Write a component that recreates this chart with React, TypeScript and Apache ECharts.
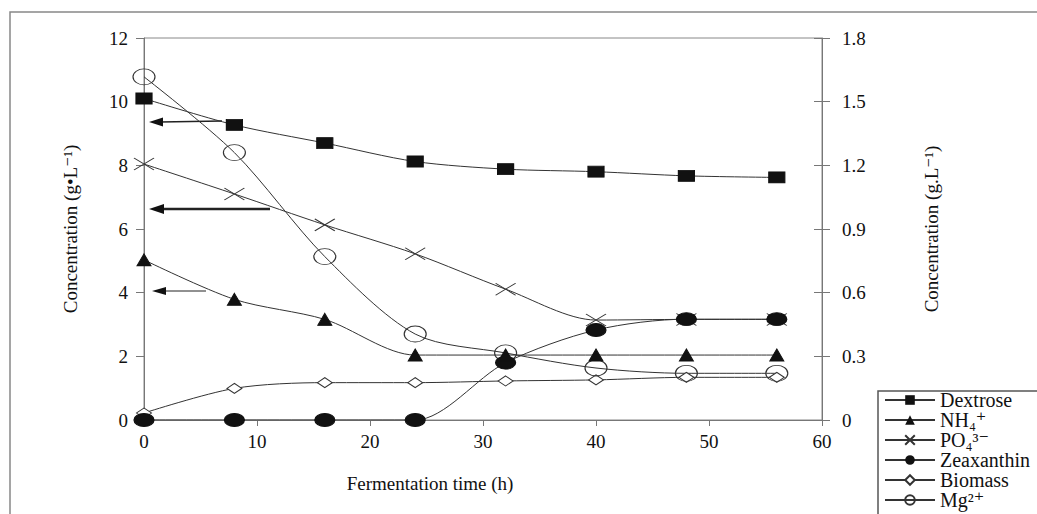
import React, { useEffect, useRef } from "react";
import * as echarts from "echarts";

const hours = [0, 8, 16, 24, 32, 40, 48, 56];
// left axis (g·L-1)
const dextrose = [10.1, 9.27, 8.7, 8.12, 7.88, 7.8, 7.67, 7.62];
const nh4 = [5.03, 3.79, 3.16, 2.04, 2.04, 2.04, 2.04, 2.04];
const po4 = [8.04, 7.1, 6.13, 5.22, 4.11, 3.14, 3.16, 3.16];
// right axis (g.L-1)
const zeaxanthin = [0, 0, 0, 0, 0.27, 0.424, 0.475, 0.475];
const biomass = [0.033, 0.149, 0.176, 0.176, 0.184, 0.189, 0.201, 0.201];
const mg = [1.617, 1.26, 0.77, 0.405, 0.316, 0.245, 0.22, 0.22];

const xTicks = { min: 0, max: 60, interval: 10 };
const leftTicks = { min: 0, max: 12, interval: 2 };
const rightTicks = { min: 0, max: 1.8, interval: 0.3 };
const legendNames = ["Dextrose", "NH₄⁺", "PO₄³⁻", "Zeaxanthin", "Biomass", "Mg²⁺"];

const FONT = "'Liberation Serif', 'DejaVu Serif', serif";
const LINE = "#333";

const pairs = (ys: number[]) => hours.map((h, i) => [h, ys[i]]);

const ellipse = "path://M0,6A10,6 0 1,0 20,6A10,6 0 1,0 0,6Z";
const cross = "path://M0,0L20,12M20,0L0,12";

export default function App() {
  const ref = useRef<HTMLDivElement>(null);
  useEffect(() => {
    if (!ref.current) return;
    const chart = echarts.init(ref.current, undefined, { renderer: "svg" });
    const base = {
      type: "line" as const,
      smooth: 0.3,
      lineStyle: { color: LINE, width: 1 },
      emphasis: { disabled: true },
    };
    const axisLabel = { color: "#111", fontFamily: FONT, fontSize: 19 };
    chart.setOption({
      animation: false,
      backgroundColor: "#fff",
      grid: {
        left: 144,
        right: 215,
        top: 38,
        bottom: 94,
        show: true,
        borderColor: "#888",
        borderWidth: 1,
      },
      legend: {
        orient: "vertical",
        left: 884,
        top: 390,
        height: 140,
        width: 200,
        padding: 0,
        itemWidth: 50,
        itemHeight: 12,
        itemGap: 0,
        selectedMode: false,
        textStyle: { fontFamily: FONT, fontSize: 20, color: "#111", lineHeight: 20 },
        data: legendNames,
      },
      xAxis: {
        type: "value",
        ...xTicks,
        name: "Fermentation time (h)",
        nameLocation: "middle",
        nameGap: 54,
        nameTextStyle: {
          fontFamily: FONT,
          fontSize: 19,
          color: "#111",
          padding: [0, 106, 0, 0],
        },
        axisLine: { lineStyle: { color: "#777" } },
        axisTick: { lineStyle: { color: "#777" }, length: 6 },
        axisLabel: { ...axisLabel, margin: 12 },
        splitLine: { show: false },
      },
      yAxis: [
        {
          type: "value",
          ...leftTicks,
          position: "left",
          name: "Concentration (g•L⁻¹)",
          nameLocation: "middle",
          nameGap: 64,
          nameTextStyle: { fontFamily: FONT, fontSize: 19, color: "#111" },
          axisLine: { show: true, lineStyle: { color: "#777" } },
          axisTick: { show: true, lineStyle: { color: "#777" }, length: 8 },
          axisLabel: { ...axisLabel, margin: 16 },
          splitLine: { show: false },
        },
        {
          type: "value",
          ...rightTicks,
          position: "right",
          name: "Concentration (g.L⁻¹)",
          nameLocation: "middle",
          nameGap: 100,
          nameRotate: 90,
          nameTextStyle: { fontFamily: FONT, fontSize: 19, color: "#111" },
          axisLine: { show: true, lineStyle: { color: "#777" } },
          axisTick: { show: true, lineStyle: { color: "#777" }, length: 8 },
          axisLabel: {
            ...axisLabel,
            margin: 20,
            formatter: (v: number) => String(Math.round(v * 10) / 10),
          },
          splitLine: { show: false },
        },
        {
          type: "value",
          ...rightTicks,
          position: "right",
          axisLine: { show: false },
          axisTick: { show: true, inside: true, lineStyle: { color: "#777" }, length: 8 },
          axisLabel: { show: false },
          splitLine: { show: false },
        },
      ],
      series: [
        {
          ...base,
          name: legendNames[0],
          yAxisIndex: 0,
          data: pairs(dextrose),
          symbol: "rect",
          symbolSize: [16, 11],
          itemStyle: { color: "#111", borderColor: "#111" },
          z: 6,
        },
        {
          ...base,
          name: legendNames[1],
          yAxisIndex: 0,
          data: pairs(nh4),
          symbol: "triangle",
          symbolSize: [14, 12],
          itemStyle: { color: "#111", borderColor: "#111" },
          z: 6,
        },
        {
          ...base,
          name: legendNames[2],
          yAxisIndex: 0,
          data: pairs(po4),
          symbol: cross,
          symbolSize: [20, 12],
          itemStyle: { color: "none", borderColor: "#333", borderWidth: 1 },
        },
        {
          ...base,
          name: legendNames[3],
          yAxisIndex: 1,
          data: pairs(zeaxanthin),
          symbol: ellipse,
          symbolSize: [20, 13],
          itemStyle: { color: "#111", borderColor: "#111" },
          z: 5,
        },
        {
          ...base,
          name: legendNames[4],
          yAxisIndex: 1,
          data: pairs(biomass),
          symbol: "diamond",
          symbolSize: [15, 10],
          itemStyle: { color: "#fff", borderColor: "#333", borderWidth: 1 },
        },
        {
          ...base,
          name: legendNames[5],
          yAxisIndex: 1,
          data: pairs(mg),
          symbol: ellipse,
          symbolSize: [22, 16],
          itemStyle: { color: "none", borderColor: "#333", borderWidth: 1 },
        },
      ],
      graphic: [
        {
          type: "rect",
          shape: { x: 10, y: 12, width: 1040, height: 520 },
          style: { fill: "none", stroke: "#888", lineWidth: 1.5 },
          silent: true,
        },
        {
          type: "rect",
          shape: { x: 878, y: 391, width: 170, height: 130 },
          style: { fill: "none", stroke: "#555", lineWidth: 1.5 },
          silent: true,
        },
        // arrows
        { type: "line", shape: { x1: 160, y1: 122, x2: 222, y2: 121 }, style: { stroke: "#222", lineWidth: 1.5 } },
        { type: "polygon", shape: { points: [[149, 122], [163, 117.5], [163, 126.5]] }, style: { fill: "#111" } },
        { type: "line", shape: { x1: 160, y1: 209, x2: 270, y2: 209 }, style: { stroke: "#222", lineWidth: 2.5 } },
        { type: "polygon", shape: { points: [[149, 209], [164, 204], [164, 214]] }, style: { fill: "#111" } },
        { type: "line", shape: { x1: 162, y1: 291, x2: 206, y2: 291 }, style: { stroke: "#222", lineWidth: 1 } },
        { type: "polygon", shape: { points: [[152, 291], [166, 287], [166, 295]] }, style: { fill: "#111" } },
      ],
    });
    return () => chart.dispose();
  }, []);
  return (
    <div
      ref={ref}
      style={{ position: "fixed", left: 0, top: 0, width: 1037, height: 514, background: "#fff" }}
    />
  );
}
